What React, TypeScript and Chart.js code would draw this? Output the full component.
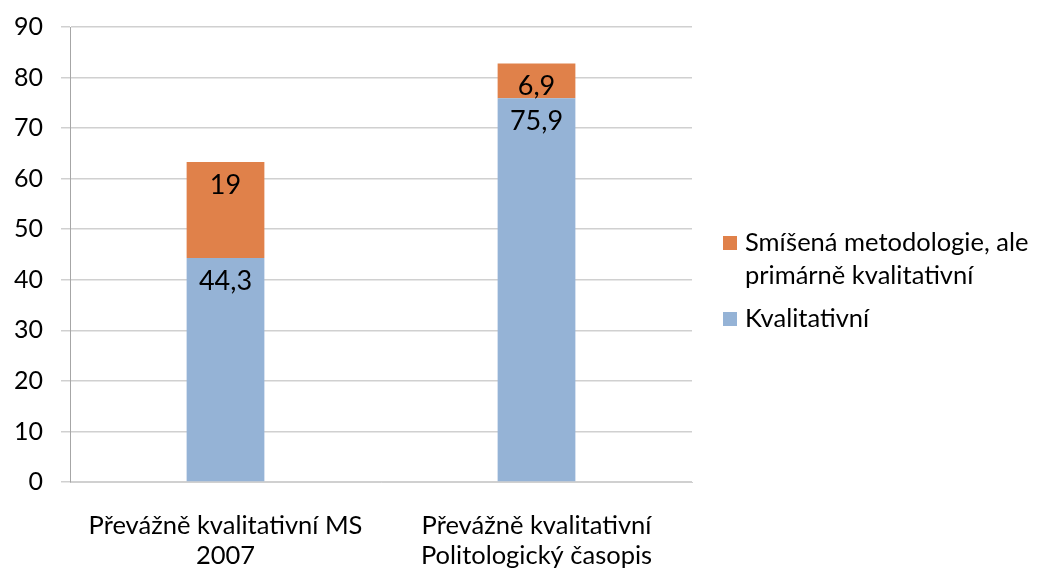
import React, { useEffect, useRef } from "react";
import { Chart, registerables } from "chart.js";

Chart.register(...registerables);

const categories: string[][] = [
  ["Převážně kvalitativní MS", "2007"],
  ["Převážně kvalitativní", "Politologický časopis"],
];
const kvalitativni: number[] = [44.3, 75.9];
const smisena: number[] = [19, 6.9];
const seriesNames: string[] = ["Kvalitativní", "Smíšená metodologie, ale primárně kvalitativní"];
const legendLines: string[][] = [["Smíšená metodologie, ale", "primárně kvalitativní"], ["Kvalitativní"]];
const yTicks: number[] = [0, 10, 20, 30, 40, 50, 60, 70, 80, 90];

const FONT = "Lato, 'Open Sans', sans-serif";
const BLUE = "#95B3D6";
const ORANGE = "#E0814A";

const fmt = (v: number) => String(v).replace(".", ",");

const labelPlugin = {
  id: "barLabels",
  afterDatasetsDraw(chart: any) {
    const ctx = chart.ctx;
    ctx.save();
    ctx.font = `27px ${FONT}`;
    ctx.fillStyle = "#000";
    ctx.textAlign = "center";
    ctx.textBaseline = "middle";
    chart.data.datasets.forEach((ds: any, di: number) => {
      const meta = chart.getDatasetMeta(di);
      meta.data.forEach((bar: any, i: number) => {
        ctx.fillText(fmt(ds.data[i]), bar.x, bar.y + 23);
      });
    });
    ctx.restore();
  },
};

const legendPlugin = {
  id: "customLegend",
  afterDraw(chart: any) {
    const ctx = chart.ctx;
    ctx.save();
    ctx.font = `25.5px ${FONT}`;
    ctx.textBaseline = "middle";
    ctx.textAlign = "left";
    const order = [1, 0];
    const boxX = 723;
    const textX = 745;
    let y = 243;
    order.forEach((di, k) => {
      const ds = chart.data.datasets[di];
      ctx.fillStyle = ds.backgroundColor;
      ctx.fillRect(boxX, y - 7, 14, 14);
      ctx.fillStyle = "#000";
      legendLines[k].forEach((line, li) => {
        ctx.fillText(line, textX, y + li * 33);
      });
      y += legendLines[k].length * 33 + 10;
    });
    ctx.restore();
  },
};

export default function App() {
  const ref = useRef<HTMLCanvasElement>(null);
  useEffect(() => {
    if (!ref.current) return;
    const chart = new Chart(ref.current, {
      type: "bar",
      data: {
        labels: categories as any,
        datasets: [
          { label: seriesNames[0], data: kvalitativni, backgroundColor: BLUE, barPercentage: 0.25, categoryPercentage: 1 },
          { label: seriesNames[1], data: smisena, backgroundColor: ORANGE, barPercentage: 0.25, categoryPercentage: 1 },
        ],
      },
      options: {
        responsive: false,
        animation: false,
        layout: { padding: { top: 27, right: 367, left: 0, bottom: 0 } },
        plugins: { legend: { display: false }, tooltip: { enabled: false } },
        scales: {
          x: {
            stacked: true,
            grid: { display: false },
            border: { display: true, color: "#D0D0D0" },
            ticks: {
              color: "#000",
              font: { family: FONT, size: 25.5, lineHeight: 1.18 },
              padding: 21,
              maxRotation: 0,
            },
            afterFit: (s: any) => { s.height = 90; s.paddingLeft = 0; s.paddingRight = 0; },
          },
          y: {
            stacked: true,
            min: 0,
            max: 90,
            afterBuildTicks: (s: any) => { s.ticks = yTicks.map((v) => ({ value: v })); },
            grid: { color: "#D0D0D0", lineWidth: 1.5, tickLength: 9 },
            border: { display: true, color: "#A6A6A6", width: 1 },
            ticks: {
              color: "#000",
              font: { family: FONT, size: 25 },
              padding: 18,
            },
            afterFit: (s: any) => { s.width = 70; s.paddingTop = 0; s.paddingBottom = 0; },
          },
        },
      },
      plugins: [labelPlugin, legendPlugin],
    });
    return () => chart.destroy();
  }, []);
  return (
    <div style={{ position: "fixed", left: 0, top: 0, width: 1059, height: 572, background: "#fff" }}>
      <canvas ref={ref} width={1059} height={572} style={{ width: 1059, height: 572 }} />
    </div>
  );
}
